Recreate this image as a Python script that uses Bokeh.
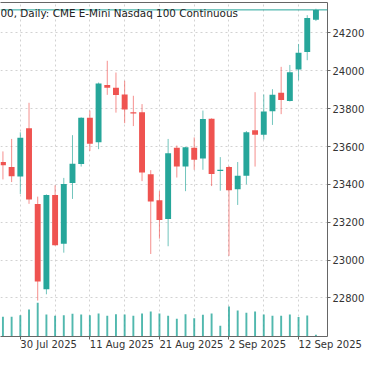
import pandas as pd
from bokeh.plotting import figure
from bokeh.models import (ColumnDataSource, Range1d, LinearAxis, FixedTicker, Span,
                          Label)
from bokeh.embed import file_html
from bokeh.resources import INLINE

# ---------------- data ----------------
dates = ["2025-07-28", "2025-07-29", "2025-07-30", "2025-07-31", "2025-08-01",
         "2025-08-04", "2025-08-05", "2025-08-06", "2025-08-07", "2025-08-08",
         "2025-08-11", "2025-08-12", "2025-08-13", "2025-08-14", "2025-08-15",
         "2025-08-18", "2025-08-19", "2025-08-20", "2025-08-21", "2025-08-22",
         "2025-08-25", "2025-08-26", "2025-08-27", "2025-08-28", "2025-08-29",
         "2025-09-01", "2025-09-02", "2025-09-03", "2025-09-04", "2025-09-05",
         "2025-09-08", "2025-09-09", "2025-09-10", "2025-09-11", "2025-09-12",
         "2025-09-15", "2025-09-16"]
opens = [23518, 23492, 23441, 23697, 23296, 22846, 23344, 23086, 23407, 23508,
         23752, 23622, 23925, 23911, 23875, 23781, 23781, 23453, 23316, 23217,
         23593, 23494, 23593, 23537, 23747, 23470, 23492, 23374, 23446, 23686,
         23662, 23786, 23884, 23840, 24007, 24099, 24270]
highs = [23574, 23640, 23675, 23831, 23335, 23347, 23395, 23434, 23660, 23754,
         23790, 23938, 24053, 23991, 23947, 23868, 23824, 23475, 23364, 23640,
         23605, 23598, 23648, 23790, 23749, 23544, 23497, 23518, 23682, 23887,
         23875, 23903, 24021, 24031, 24142, 24294, 24328]
lows = [23426, 23412, 23349, 23297, 22786, 22819, 23076, 23039, 23323, 23494,
        23576, 23586, 23873, 23779, 23723, 23708, 23417, 23032, 23113, 23073,
        23436, 23364, 23477, 23477, 23391, 23366, 23022, 23291, 23400, 23494,
        23637, 23714, 23771, 23838, 23950, 24056, 24263]
closes = [23501, 23443, 23646, 23320, 22887, 23344, 23078, 23402, 23509, 23752,
          23614, 23933, 23911, 23872, 23796, 23774, 23462, 23309, 23212, 23564,
          23494, 23596, 23530, 23745, 23455, 23477, 23369, 23445, 23675, 23662,
          23785, 23873, 23846, 23993, 24096, 24279, 24322]
volumes = [510, 510, 550, 692, 868, 568, 535, 550, 585, 568,
           550, 592, 535, 575, 568, 535, 592, 642, 592, 535,
           460, 575, 470, 560, 592, 275, 775, 668, 610, 642,
           568, 535, 535, 568, 500, 542, 42]  # thousands of contracts

title_text = "00, Daily:  CME E-Mini Nasdaq 100 Continuous"
price_ticks = [22800, 23000, 23200, 23400, 23600, 23800, 24000, 24200]

UP = "#26a69a"
DOWN = "#ef5350"
GRID = "#d2d2d2"
FRAME = "#666666"
TXT = "#333333"
FONT = "DejaVu Sans"

# ---------------- build ----------------
n = len(dates)
idx = list(range(n))
colors = [UP if c >= o else DOWN for o, c in zip(opens, closes)]
src = ColumnDataSource(dict(
    x=idx, open=opens, high=highs, low=lows, close=closes, vol=volumes,
    color=colors,
    top=[max(o, c) for o, c in zip(opens, closes)],
    bottom=[min(o, c) for o, c in zip(opens, closes)],
))

label_idx = list(range(2, n, 8))
grid_idx = list(range(2, n, 4))
overrides = {}
for i in label_idx:
    d = pd.Timestamp(dates[i])
    overrides[i] = f"{d.day} {d.strftime('%b %Y')}"

W, H = 367, 358
TOP = 2
x_start, x_end = -0.28, 37.33
p = figure(width=W, height=H,
           x_range=Range1d(x_start, x_end), y_range=Range1d(22596, 24361),
           y_axis_location="right", output_backend="svg", toolbar_location=None,
           min_border_left=0, min_border_right=0,
           min_border_top=TOP, min_border_bottom=0, outline_line_color=None,
           background_fill_color="white", border_fill_color="white")
p.extra_y_ranges = {"vol": Range1d(0, 8600)}

# grids
p.xgrid.ticker = FixedTicker(ticks=grid_idx)
p.xgrid.grid_line_color = GRID
p.xgrid.grid_line_dash = "2 3"
p.ygrid.ticker = FixedTicker(ticks=price_ticks)
p.ygrid.grid_line_color = GRID
p.ygrid.grid_line_dash = "2 3"

# volume
p.vbar(x="x", top="vol", bottom=0, width=0.22, source=src, y_range_name="vol",
       fill_color=UP, line_color=None, fill_alpha=0.8)
# wicks
p.segment(x0="x", y0="low", x1="x", y1="high", source=src,
          line_color="color", line_alpha=0.65, line_width=1)
# bodies
p.vbar(x="x", top="top", bottom="bottom", width=0.68, source=src,
       fill_color="color", line_color=None)

# last price line
p.add_layout(Span(location=closes[-1], dimension="width", line_color=UP, line_width=1))

# x axis: labels start at their tick (a tiny negative orientation left-aligns them)
xa = p.xaxis[0]
xa.ticker = FixedTicker(ticks=label_idx)
xa.major_label_overrides = overrides
xa.major_label_orientation = -1e-6
xa.major_label_text_font = FONT
xa.major_label_text_font_size = "10px"
xa.major_label_text_color = TXT
xa.major_label_standoff = 5
xa.major_tick_in = 0
xa.major_tick_out = 3
xa.minor_tick_line_color = None
xa.axis_line_color = FRAME
xa.major_tick_line_color = FRAME

# y axis (right)
ya = p.yaxis[0]
ya.ticker = FixedTicker(ticks=price_ticks)
ya.major_label_text_font = FONT
ya.major_label_text_font_size = "10px"
ya.major_label_text_color = TXT
ya.major_label_standoff = 2
ya.major_tick_in = 0
ya.major_tick_out = 3
ya.minor_tick_line_color = None
ya.axis_line_color = FRAME
ya.major_tick_line_color = FRAME

# top border line of the chart frame
top_axis = LinearAxis(major_tick_line_color=None, minor_tick_line_color=None,
                      major_label_text_color=None, axis_line_color=FRAME,
                      major_tick_out=0, major_tick_in=0, minor_tick_out=0,
                      minor_tick_in=0, major_label_standoff=0)
p.add_layout(top_axis, "above")

# title inside the chart, top-left
p.add_layout(Label(x=0, y=highs[-1], x_units="screen", y_units="data",
                   y_offset=-4,
                   text=title_text, text_font=FONT, text_font_size="10.4px",
                   text_color="#222222", text_baseline="middle", text_align="left"))

open("out.html", "w").write(file_html(p, INLINE))
